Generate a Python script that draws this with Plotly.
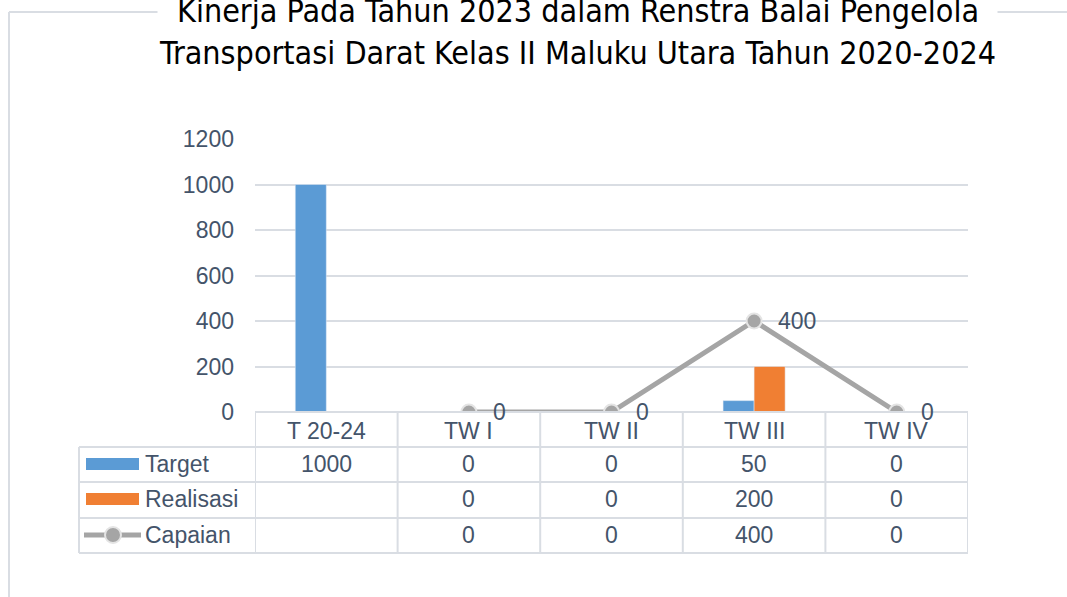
import plotly.graph_objects as go

categories = ["T 20-24", "TW I", "TW II", "TW III", "TW IV"]
target = [1000, 0, 0, 50, 0]
realisasi = [None, 0, 0, 200, 0]
capaian = [None, 0, 0, 400, 0]
y_ticks = [0, 200, 400, 600, 800, 1000, 1200]
title_lines = ["Kinerja Pada Tahun 2023 dalam Renstra Balai Pengelola",
               "Transportasi Darat Kelas II Maluku Utara Tahun 2020-2024"]

W, H = 1067, 597
TXT = "#44546A"
GRID = "#D9DDE3"
FONT = "Liberation Sans, Arial, sans-serif"
BLUE = "#5B9BD5"
ORANGE = "#F07F33"
GRAY = "#A5A5A5"

def py(p):  # pixel y -> paper
    return 1 - p / H

def px(p):
    return p / W

x0p, x1p = 255, 968
y_top, y_bot = 139, 412

fig = go.Figure()
fig.add_trace(go.Bar(x=categories, y=target, name="Target", marker_color=BLUE))
fig.add_trace(go.Bar(x=categories, y=realisasi, name="Realisasi", marker_color=ORANGE))
fig.add_trace(go.Scatter(x=categories, y=capaian, name="Capaian", mode="lines+markers",
                         line=dict(color=GRAY, width=5),
                         marker=dict(size=15, color=GRAY, line=dict(color="#E4E4E4", width=2))))

fig.update_layout(
    width=W, height=H, margin=dict(l=0, r=0, t=0, b=0, autoexpand=False),
    paper_bgcolor="white", plot_bgcolor="white",
    showlegend=False, barmode="group", bargap=0.565, bargroupgap=0,
    font=dict(family=FONT, size=23, color=TXT),
    xaxis=dict(domain=[px(x0p), px(x1p)], type="category", categoryorder="array",
               categoryarray=categories, showticklabels=False, showgrid=False,
               zeroline=False, showline=False, range=[-0.5, len(categories) - 0.5],
               automargin=False),
    yaxis=dict(domain=[py(y_bot), py(y_top)], range=[0, 1200], tickvals=y_ticks,
               showgrid=True, gridcolor=GRID, gridwidth=2, zeroline=False,
               showline=False, ticks="", ticklabelstandoff=20, automargin=False,
               tickfont=dict(size=23, color=TXT)),
)

shapes = []
# chart border
shapes.append(dict(type="line", xref="paper", yref="paper", x0=px(9), x1=px(9), y0=py(12), y1=0,
                   line=dict(color="#D9DDE3", width=2)))
shapes.append(dict(type="line", xref="paper", yref="paper", x0=px(9), x1=1, y0=py(12), y1=py(12),
                   line=dict(color="#D9DDE3", width=2)))
# table horizontal lines
row_lines = [412, 447, 482, 518, 553]
for i, r in enumerate(row_lines):
    xl = x0p if i == 0 else 79
    shapes.append(dict(type="line", xref="paper", yref="paper", x0=px(xl), x1=px(x1p),
                       y0=py(r), y1=py(r), line=dict(color=GRID, width=2)))
# vertical lines
for i in range(len(categories) + 1):
    shapes.append(dict(type="line", xref="x", yref="paper", x0=i - 0.5, x1=i - 0.5,
                       y0=py(412), y1=py(553), line=dict(color=GRID, width=2)))
shapes.append(dict(type="line", xref="paper", yref="paper", x0=px(79), x1=px(79),
                   y0=py(447), y1=py(553), line=dict(color=GRID, width=2)))
# legend keys
shapes.append(dict(type="rect", xref="paper", yref="paper", x0=px(86), x1=px(139),
                   y0=py(470), y1=py(458), fillcolor=BLUE, line=dict(width=0)))
shapes.append(dict(type="rect", xref="paper", yref="paper", x0=px(86), x1=px(139),
                   y0=py(505), y1=py(493), fillcolor=ORANGE, line=dict(width=0)))
shapes.append(dict(type="line", xref="paper", yref="paper", x0=px(84), x1=px(141),
                   y0=py(535), y1=py(535), line=dict(color=GRAY, width=5)))
shapes.append(dict(type="circle", xref="paper", yref="paper", x0=px(105), x1=px(121),
                   y0=py(543), y1=py(527), fillcolor=GRAY, line=dict(color="#E4E4E4", width=2)))

ann = []
ann.append(dict(xref="paper", yref="paper", x=px(577), y=py(-10), yanchor="top", xanchor="center",
                text="<br>".join(title_lines), showarrow=False, bgcolor="white",
                font=dict(family="Liberation Sans Narrow, DejaVu Sans Condensed, Arial Narrow, sans-serif",
                          size=32, color="black")))
row_centers = {"hdr": 431, "Target": 464, "Realisasi": 499, "Capaian": 535}
for c in categories:
    ann.append(dict(xref="x", yref="paper", x=c, y=py(row_centers["hdr"]), text=c,
                    showarrow=False, yanchor="middle"))
for name, vals in [("Target", target), ("Realisasi", realisasi), ("Capaian", capaian)]:
    ann.append(dict(xref="paper", yref="paper", x=px(143), y=py(row_centers[name]), text=name,
                    showarrow=False, xanchor="left", yanchor="middle"))
    for c, v in zip(categories, vals):
        if v is not None:
            ann.append(dict(xref="x", yref="paper", x=c, y=py(row_centers[name]), text=str(v),
                            showarrow=False, yanchor="middle"))
# data labels on Capaian line
for c, v in zip(categories, capaian):
    if v is not None:
        ann.append(dict(xref="x", yref="y", x=c, y=v, text=str(v), showarrow=False,
                        xanchor="left", yanchor="middle", xshift=22))

fig.update_layout(shapes=shapes, annotations=ann)
fig.write_html("out.html", post_script="document.body.style.margin='0';",
               config={"displayModeBar": False})
